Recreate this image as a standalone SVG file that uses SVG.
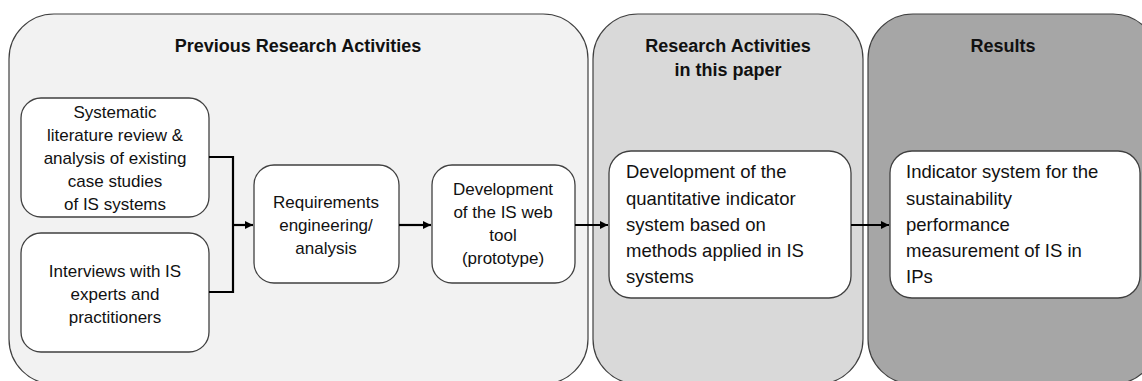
<svg xmlns="http://www.w3.org/2000/svg" width="1142" height="381" viewBox="0 0 1142 381">
<defs>
<style>
.panel{stroke:#404040;stroke-width:1.2}
.box{fill:#fff;stroke:#404040;stroke-width:1.3}
.title{font-family:"Liberation Sans",Arial,sans-serif;font-weight:bold;font-size:18px;fill:#111;text-anchor:middle}
.t{font-family:"Liberation Sans",Arial,sans-serif;font-size:17px;fill:#111;text-anchor:middle}
.tl{font-family:"Liberation Sans",Arial,sans-serif;font-size:18.5px;fill:#111}
.conn{fill:none;stroke:#000;stroke-width:2.2}
</style>
<marker id="arr" markerWidth="9" markerHeight="9" refX="8" refY="4.5" orient="auto" markerUnits="userSpaceOnUse">
<path d="M0,0.5 L8,4.5 L0,8.5 Z" fill="#000"/>
</marker>
</defs>
<g id="panel-previous">
<rect class="panel" x="9" y="14" width="579" height="370" rx="45" fill="#f2f2f2"/>
<text class="title" x="298" y="52">Previous Research Activities</text>
</g>
<g id="panel-this-paper">
<rect class="panel" x="593" y="14" width="270" height="370" rx="45" fill="#d9d9d9"/>
<text class="title" x="728" y="52">Research Activities</text>
<text class="title" x="728" y="76">in this paper</text>
</g>
<g id="panel-results">
<rect class="panel" x="868" y="14" width="290" height="370" rx="45" fill="#a6a6a6"/>
<text class="title" x="1003" y="52">Results</text>
</g>
<g id="node-literature">
<rect class="box" x="21" y="98" width="188" height="119" rx="20"/>
<text class="t" x="115" y="118">Systematic</text>
<text class="t" x="115" y="141">literature review &amp;</text>
<text class="t" x="115" y="164">analysis of existing</text>
<text class="t" x="115" y="187">case studies</text>
<text class="t" x="115" y="210">of IS systems</text>
</g>
<g id="node-interviews">
<rect class="box" x="21" y="233" width="188" height="119" rx="20"/>
<text class="t" x="115" y="277">Interviews with IS</text>
<text class="t" x="115" y="300">experts and</text>
<text class="t" x="115" y="323">practitioners</text>
</g>
<g id="node-requirements">
<rect class="box" x="254" y="165" width="145" height="118" rx="20"/>
<text class="t" x="326" y="208">Requirements</text>
<text class="t" x="326" y="231">engineering/</text>
<text class="t" x="326" y="254">analysis</text>
</g>
<g id="node-webtool">
<rect class="box" x="432" y="165" width="143" height="118" rx="20"/>
<text class="t" x="503" y="195">Development</text>
<text class="t" x="503" y="218">of the IS web</text>
<text class="t" x="503" y="241">tool</text>
<text class="t" x="503" y="264">(prototype)</text>
</g>
<g id="node-indicator-dev">
<rect class="box" x="609" y="151" width="242" height="147" rx="22"/>
<text class="tl" x="626" y="178">Development of the</text>
<text class="tl" x="626" y="205">quantitative indicator</text>
<text class="tl" x="626" y="231">system based on</text>
<text class="tl" x="626" y="257">methods applied in IS</text>
<text class="tl" x="626" y="283">systems</text>
</g>
<g id="node-indicator-system">
<rect class="box" x="890" y="151" width="250" height="147" rx="22"/>
<text class="tl" x="906" y="178">Indicator system for the</text>
<text class="tl" x="906" y="205">sustainability</text>
<text class="tl" x="906" y="231">performance</text>
<text class="tl" x="906" y="257">measurement of IS in</text>
<text class="tl" x="906" y="283">IPs</text>
</g>
<g id="connectors">
<path class="conn" d="M209,157 H233 V292 H209"/>
<path class="conn" d="M233,225 H253" marker-end="url(#arr)"/>
<path class="conn" d="M399,225 H431" marker-end="url(#arr)"/>
<path class="conn" d="M575,225 H608" marker-end="url(#arr)"/>
<path class="conn" d="M851,225 H889" marker-end="url(#arr)"/>
</g>
</svg>
